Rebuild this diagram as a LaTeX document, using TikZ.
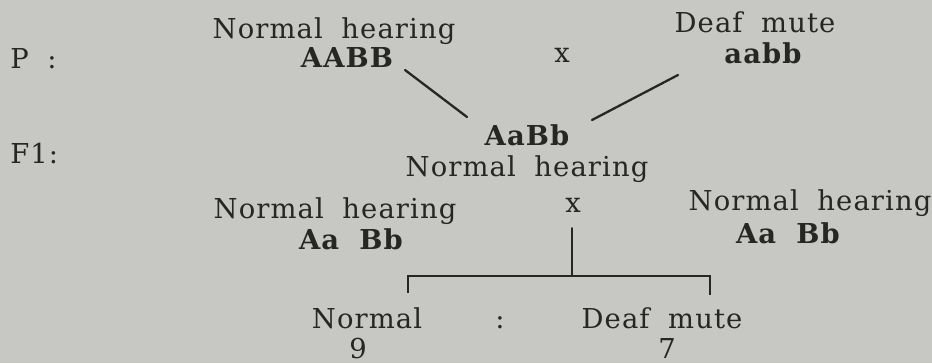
\documentclass[tikz,border=0pt]{standalone}
\usepackage{fontspec}
\setmainfont[LetterSpace=4, WordSpace=1.9]{DejaVu Serif}
\usepackage{tikz}
\definecolor{paper}{RGB}{199,200,196}
\definecolor{ink}{RGB}{38,38,36}

\begin{document}
\begin{tikzpicture}[x=0.02cm, y=-0.02cm,
  every node/.style={font=\fontsize{15.6}{18}\selectfont, text=ink, inner sep=0pt, anchor=base},
  geno/.style={font=\fontsize{15.6}{18}\selectfont\bfseries},
  cross/.style={line width=1.3pt, ink, line cap=round}]
  \useasboundingbox (0,0) rectangle (932,363);
  \fill[paper] (0,0) rectangle (932,363);
  % generation labels
  \node[anchor=base west] (genP) at (10,68) {P :};
  \node[anchor=base west] (genF) at (10,163) {F1:};
  % parents
  \node (phenoA) at (334,38) {Normal hearing};
  \node[geno] (genoA) at (347,67) {AABB};
  \node (crossP) at (562,62) {x};
  \node (phenoB) at (755,32) {Deaf mute};
  \node[geno] (genoB) at (763,63) {aabb};
  % F1
  \node[geno] (genoF) at (527,145) {AaBb};
  \node (phenoF) at (527,176) {Normal hearing};
  % F1 x F1
  \node (phenoL) at (335,218) {Normal hearing};
  \node (crossF) at (573,212) {x};
  \node (phenoR) at (810,210) {Normal hearing};
  \node[geno] (genoL) at (351,249) {Aa Bb};
  \node[geno] (genoR) at (788,243) {Aa Bb};
  % F2 ratio
  \node (normal) at (367,328) {Normal};
  \node (colon) at (500,328) {:};
  \node (deaf) at (662,328) {Deaf mute};
  \node (nine) at (358,358) {9};
  \node (seven) at (667,358) {7};
  % connectors
  \coordinate (pl1) at (405,70);  \coordinate (pl2) at (467,117);
  \coordinate (pr1) at (678,75);  \coordinate (pr2) at (592,120);
  \draw[cross] (pl1) -- (pl2);
  \draw[cross] (pr1) -- (pr2);
  \coordinate (stem) at (572,228); \coordinate (fork) at (572,276);
  \coordinate (brL) at (408,276);  \coordinate (brR) at (710,276);
  \coordinate (tickL) at (408,293); \coordinate (tickR) at (710,295);
  \draw[cross, line width=1.1pt] (stem) -- (fork);
  \draw[cross, line width=1.1pt, line cap=butt] (tickL) -- (brL) -- (brR) -- (tickR);
\end{tikzpicture}
\end{document}
